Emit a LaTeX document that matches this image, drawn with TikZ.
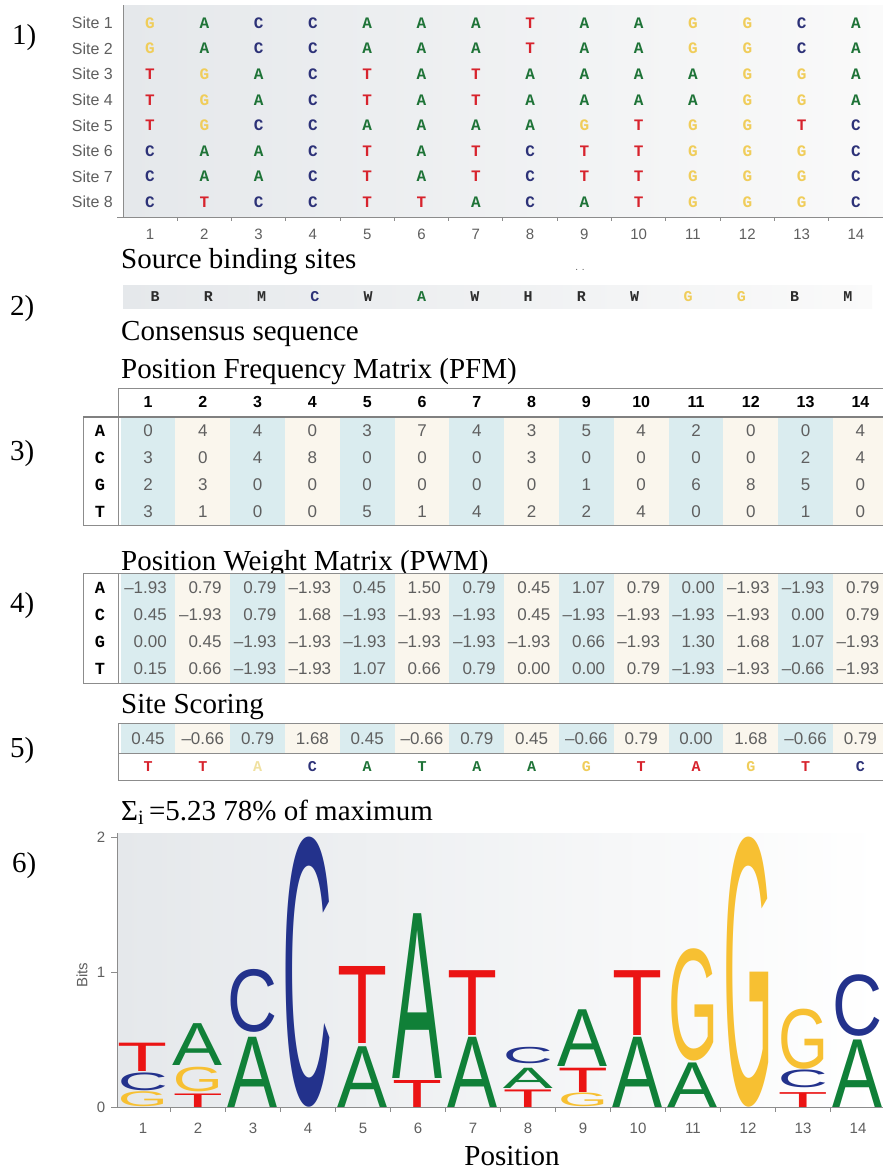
\documentclass[tikz,border=0pt]{standalone}
\usepackage{fontspec}
\setmainfont{Liberation Serif}
\setsansfont{Liberation Sans}
\setmonofont{Liberation Mono}
\usepackage{graphicx}
\definecolor{nA}{RGB}{30,115,55}
\definecolor{nC}{RGB}{45,50,120}
\definecolor{nG}{RGB}{240,205,90}
\definecolor{nT}{RGB}{215,35,45}
\definecolor{nP}{RGB}{240,225,160}
\definecolor{nK}{RGB}{45,45,45}
\definecolor{lA}{RGB}{16,128,56}
\definecolor{lC}{RGB}{35,50,140}
\definecolor{lG}{RGB}{247,192,50}
\definecolor{lT}{RGB}{235,20,20}
\definecolor{stB}{RGB}{218,236,239}
\definecolor{stC}{RGB}{250,246,237}
\definecolor{bgG}{RGB}{229,232,235}
\definecolor{numG}{RGB}{95,95,95}
\definecolor{axG}{RGB}{140,140,140}
\newcommand{\logoL}[5]{%
  \pgfmathsetmacro{\lx}{143+55*(#1-1)}%
  \pgfmathsetmacro{\ly}{1107-135*#2}%
  \pgfmathsetmacro{\lh}{135*#3}%
  \node[inner sep=0,outer sep=0,anchor=south] (L#1#4) at (\lx,\ly) {\resizebox{50pt}{\lh pt}{\color{#5}\sffamily #4}};%
}
\begin{document}
\begin{tikzpicture}[x=1pt,y=-1pt,
  head/.style={anchor=base west,inner sep=0,font=\fontsize{29}{33}\selectfont},
  seqL/.style={inner sep=0,font=\ttfamily\bfseries\fontsize{16}{18}\selectfont},
  rowL/.style={inner sep=0,font=\ttfamily\bfseries\fontsize{17}{19}\selectfont},
  num/.style={inner sep=0,text=numG,font=\sffamily\fontsize{17}{19}\selectfont},
  hnum/.style={inner sep=0,font=\sffamily\bfseries\fontsize{16}{18}\selectfont},
  tickL/.style={inner sep=0,text=numG,font=\sffamily\fontsize{15}{17}\selectfont},
  siteL/.style={inner sep=0,anchor=east,text=numG,font=\sffamily\fontsize{16}{18}\selectfont},
  axis/.style={draw=axG,line width=1pt},
  tab/.style={draw=axG,line width=1pt},
  tabH/.style={draw=gray,line width=1.6pt}]
\useasboundingbox (0,0) rectangle (883,1171);
\fill[white] (0,0) rectangle (883,1171);

% ---------- 1) source sites
\node[head] (n1) at (12,44) {1)};
\shade[left color=bgG,right color=white!96!gray] (123,5) rectangle (883,217);
\draw[axis] (123,5) -- (123,217);
\draw[axis] (117,217) -- (883,217);
\foreach \i in {2,...,15} \draw[axis] ({150+54.3*(\i-1.5)},217) -- ++(0,4);
\foreach \i in {1,...,14} \node[tickL] (t1-\i) at ({150+54.3*(\i-1)},234) {\i};
\foreach \r in {1,...,8} \node[siteL] (lab\r) at (113,{23+25.6*(\r-1)}) {Site \r};
\foreach \row [count=\r] in {
 {G,A,C,C,A,A,A,T,A,A,G,G,C,A},
 {G,A,C,C,A,A,A,T,A,A,G,G,C,A},
 {T,G,A,C,T,A,T,A,A,A,A,G,G,A},
 {T,G,A,C,T,A,T,A,A,A,A,G,G,A},
 {T,G,C,C,A,A,A,A,G,T,G,G,T,C},
 {C,A,A,C,T,A,T,C,T,T,G,G,G,C},
 {C,A,A,C,T,A,T,C,T,T,G,G,G,C},
 {C,T,C,C,T,T,A,C,A,T,G,G,G,C}}
 {\foreach \b [count=\c] in \row
   \node[seqL,text=n\b] (s\r-\c) at ({150+54.3*(\c-1)},{23+25.6*(\r-1)}) {\b};}

% ---------- 2) consensus
\node[head] (h1) at (121,268) {Source binding sites};
\node[head] (n2) at (10,315) {2)};
\shade[left color=bgG,right color=white!96!gray] (123,285) rectangle (872,308);
\node[inner sep=0,text=numG,font=\sffamily\fontsize{10}{10}\selectfont] (dots) at (580,270) {. .};
\foreach \b/\cl [count=\c] in {B/nK,R/nK,M/nK,C/nC,W/nK,A/nA,W/nK,H/nK,R/nK,W/nK,G/nG,G/nG,B/nK,M/nK}
  \node[seqL,text=\cl,font=\ttfamily\bfseries\fontsize{15}{17}\selectfont] (cs\c) at ({155+53.3*(\c-1)},297) {\b};
\node[head] (h2) at (121,340) {Consensus sequence};
\node[head] (h3) at (121,378) {Position Frequency Matrix (PFM)};

% ---------- 3) PFM
\node[head] (n3) at (10,460) {3)};
\foreach \c in {1,...,14}{\ifodd\c\def\stc{stB}\else\def\stc{stC}\fi
  \fill[\stc] ({148+54.8*(\c-1.5)},417) rectangle ({148+54.8*(\c-0.5)},525);}
\draw[tab] (118,388) -- (883,388);
\draw[tab] (118,388) -- (118,525);
\draw[tab] (83,417) -- (83,525) -- (883,525);
\draw[tabH] (83,417) -- (883,417);
\foreach \i in {1,...,14} \node[hnum] (pfh\i) at ({148+54.8*(\i-1)},402) {\i};
\foreach \row/\lt [count=\r] in {
 {0,4,4,0,3,7,4,3,5,4,2,0,0,4}/A,
 {3,0,4,8,0,0,0,3,0,0,0,0,2,4}/C,
 {2,3,0,0,0,0,0,0,1,0,6,8,5,0}/G,
 {3,1,0,0,5,1,4,2,2,4,0,0,1,0}/T}
 {\node[rowL] (pfl\r) at (100,{430.5+27*(\r-1)}) {\lt};
  \foreach \v [count=\c] in \row
   \node[num] (pf\r-\c) at ({148+54.8*(\c-1)},{430.5+27*(\r-1)}) {\v};}

% ---------- 4) PWM
\node[head] (h4) at (121,570) {Position Weight Matrix (PWM)};
\node[head] (n4) at (10,612) {4)};
\foreach \c in {1,...,14}{\ifodd\c\def\stc{stB}\else\def\stc{stC}\fi
  \fill[\stc] ({148+54.8*(\c-1.5)},573) rectangle ({148+54.8*(\c-0.5)},683);}
\draw[tab] (883,573) -- (83,573) -- (83,683) -- (883,683);
\draw[tab] (118,573) -- (118,683);
\foreach \row/\lt [count=\r] in {
 {–1.93,0.79,0.79,–1.93,0.45,1.50,0.79,0.45,1.07,0.79,0.00,–1.93,–1.93,0.79}/A,
 {0.45,–1.93,0.79,1.68,–1.93,–1.93,–1.93,0.45,–1.93,–1.93,–1.93,–1.93,0.00,0.79}/C,
 {0.00,0.45,–1.93,–1.93,–1.93,–1.93,–1.93,–1.93,0.66,–1.93,1.30,1.68,1.07,–1.93}/G,
 {0.15,0.66,–1.93,–1.93,1.07,0.66,0.79,0.00,0.00,0.79,–1.93,–1.93,–0.66,–1.93}/T}
 {\node[rowL] (pwl\r) at (100,{588+27*(\r-1)}) {\lt};
  \foreach \v [count=\c] in \row
   \node[num,anchor=east] (pw\r-\c) at ({167+54.8*(\c-1)},{588+27*(\r-1)}) {\v};}

% ---------- 5) site scoring
\node[head] (h5) at (121,713) {Site Scoring};
\node[head] (n5) at (10,757) {5)};
\foreach \c in {1,...,14}{\ifodd\c\def\stc{stB}\else\def\stc{stC}\fi
  \fill[\stc] ({148+54.8*(\c-1.5)},723) rectangle ({148+54.8*(\c-0.5)},753);}
\draw[tab] (883,723) -- (118,723) -- (118,780) -- (883,780);
\draw[tab] (118,753) -- (883,753);
\foreach \v [count=\c] in {0.45,–0.66,0.79,1.68,0.45,–0.66,0.79,0.45,–0.66,0.79,0.00,1.68,–0.66,0.79}
  \node[num] (sc\c) at ({148+54.8*(\c-1)},739) {\v};
\foreach \b/\cl [count=\c] in {T/nT,T/nT,A/nP,C/nC,A/nA,T/nA,A/nA,A/nA,G/nG,T/nT,A/nT,G/nG,T/nT,C/nC}
  \node[seqL,text=\cl,font=\ttfamily\bfseries\fontsize{15}{17}\selectfont] (sl\c) at ({148+54.8*(\c-1)},767) {\b};
\node[head] (h6) at (121,820) {Σ\textsubscript{i}\,=5.23 78\% of maximum};

% ---------- 6) logo
\node[head] (n6) at (12,872) {6)};
\shade[left color=bgG,right color=white] (117,833) rectangle (880,1107);
\draw[axis] (117,833) -- (117,1107);
\draw[axis] (117,1107) -- (883,1107);
\foreach \v/\yy in {2/837,1/972,0/1107}{
  \draw[axis] (111,\yy) -- (117,\yy);
  \node[tickL] (yt\v) at (101,\yy) {\v};}
\node[tickL,rotate=90] (bits) at (82,975) {Bits};
\foreach \i in {2,...,15} \draw[axis] ({143+55*(\i-1.5)},1107) -- ++(0,5);
\foreach \i in {1,...,14} \node[tickL] (t6-\i) at ({143+55*(\i-1)},1128) {\i};
\node[head,anchor=base] (pos) at (512,1165) {Position};
% letters
\logoL{1}{0}{0.11}{G}{lG}
\logoL{1}{0.12}{0.13}{C}{lC}
\logoL{1}{0.26}{0.21}{T}{lT}
\logoL{2}{0}{0.10}{T}{lT}
\logoL{2}{0.11}{0.18}{G}{lG}
\logoL{2}{0.31}{0.31}{A}{lA}
\logoL{3}{0}{0.52}{A}{lA}
\logoL{3}{0.55}{0.46}{C}{lC}
\logoL{4}{0}{1.97}{C}{lC}
\logoL{5}{0}{0.45}{A}{lA}
\logoL{5}{0.47}{0.57}{T}{lT}
\logoL{6}{0}{0.20}{T}{lT}
\logoL{6}{0.21}{1.22}{A}{lA}
\logoL{7}{0}{0.52}{A}{lA}
\logoL{7}{0.53}{0.48}{T}{lT}
\logoL{8}{0}{0.13}{T}{lT}
\logoL{8}{0.14}{0.15}{A}{lA}
\logoL{8}{0.32}{0.12}{C}{lC}
\logoL{9}{0}{0.10}{G}{lG}
\logoL{9}{0.11}{0.18}{T}{lT}
\logoL{9}{0.30}{0.42}{A}{lA}
\logoL{10}{0}{0.52}{A}{lA}
\logoL{10}{0.53}{0.48}{T}{lT}
\logoL{11}{0}{0.33}{A}{lA}
\logoL{11}{0.34}{0.82}{G}{lG}
\logoL{12}{0}{1.97}{G}{lG}
\logoL{13}{0}{0.11}{T}{lT}
\logoL{13}{0.14}{0.13}{C}{lC}
\logoL{13}{0.28}{0.44}{G}{lG}
\logoL{14}{0}{0.50}{A}{lA}
\logoL{14}{0.52}{0.45}{C}{lC}
\end{tikzpicture}
\end{document}
